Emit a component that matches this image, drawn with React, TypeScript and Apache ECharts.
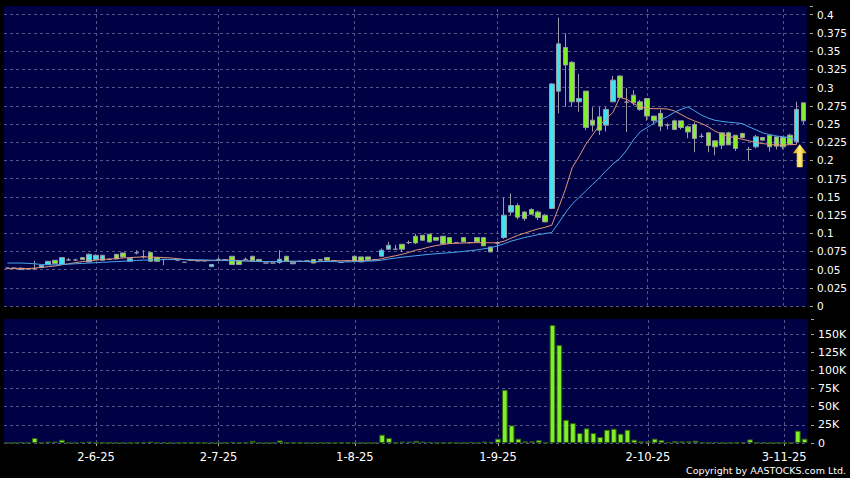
import React, { useEffect, useRef } from "react";
import * as echarts from "echarts";

// Trading days (d-m-yy)
const DATES: string[] = [
  "14-5-25","15-5-25","16-5-25","19-5-25","20-5-25","21-5-25","22-5-25","23-5-25","26-5-25","27-5-25","28-5-25","29-5-25","30-5-25",
  "2-6-25","3-6-25","4-6-25","5-6-25","6-6-25","9-6-25","11-6-25","12-6-25","13-6-25","16-6-25","17-6-25","19-6-25","20-6-25","23-6-25","24-6-25","26-6-25","27-6-25","30-6-25",
  "2-7-25","3-7-25","4-7-25","7-7-25","8-7-25","10-7-25","11-7-25","14-7-25","15-7-25","16-7-25","17-7-25","18-7-25","21-7-25","22-7-25","24-7-25","25-7-25","28-7-25","29-7-25","30-7-25","31-7-25",
  "1-8-25","4-8-25","5-8-25","6-8-25","7-8-25","8-8-25","11-8-25","12-8-25","13-8-25","14-8-25","15-8-25","18-8-25","19-8-25","20-8-25","21-8-25","22-8-25","25-8-25","26-8-25","27-8-25","28-8-25","29-8-25",
  "1-9-25","2-9-25","3-9-25","4-9-25","5-9-25","8-9-25","9-9-25","10-9-25","11-9-25","12-9-25","15-9-25","16-9-25","17-9-25","18-9-25","19-9-25","22-9-25","23-9-25","24-9-25","25-9-25","26-9-25","29-9-25","30-9-25",
  "2-10-25","3-10-25","6-10-25","8-10-25","9-10-25","10-10-25","13-10-25","14-10-25","15-10-25","16-10-25","17-10-25","20-10-25","21-10-25","22-10-25","23-10-25","24-10-25","27-10-25","28-10-25","30-10-25","31-10-25",
  "3-11-25","4-11-25","5-11-25","6-11-25",
];

const TICK_LABELS: string[] = ["2-6-25", "2-7-25", "1-8-25", "1-9-25", "2-10-25", "3-11-25"];

// [open, close, low, high]
const CANDLES: [number, number, number, number][] = [
  [0.052, 0.052, 0.051, 0.053], [0.052, 0.052, 0.051, 0.053], [0.05, 0.052, 0.05, 0.053], [0.051, 0.051, 0.05, 0.052],
  [0.051, 0.051, 0.05, 0.062], [0.053, 0.056, 0.053, 0.056], [0.057, 0.0614, 0.057, 0.0614], [0.0628, 0.0585, 0.0585, 0.0628],
  [0.057, 0.0665, 0.057, 0.067], [0.0632, 0.0632, 0.062, 0.066], [0.0632, 0.0632, 0.0625, 0.065], [0.0665, 0.0638, 0.0638, 0.0665],
  [0.0605, 0.071, 0.0605, 0.072], [0.0638, 0.0697, 0.0638, 0.071], [0.0628, 0.0697, 0.0628, 0.0697], [0.064, 0.064, 0.063, 0.065],
  [0.071, 0.0646, 0.0646, 0.071], [0.0729, 0.0674, 0.066, 0.0729], [0.0614, 0.0651, 0.0614, 0.0651], [0.073, 0.073, 0.071, 0.0766],
  [0.068, 0.068, 0.065, 0.0766], [0.0734, 0.0614, 0.0614, 0.0734], [0.0665, 0.0614, 0.0614, 0.0665], [0.064, 0.064, 0.056, 0.064],
  [0.064, 0.064, 0.063, 0.064], [0.063, 0.063, 0.062, 0.063], [0.06, 0.06, 0.06, 0.06], [0.063, 0.063, 0.063, 0.063],
  [0.062, 0.062, 0.062, 0.062], [0.062, 0.062, 0.062, 0.062], [0.054, 0.057, 0.054, 0.057], [0.064, 0.064, 0.063, 0.0665],
  [0.0635, 0.0635, 0.063, 0.064], [0.0683, 0.057, 0.057, 0.0683], [0.062, 0.057, 0.057, 0.062], [0.064, 0.064, 0.0635, 0.0665],
  [0.0683, 0.062, 0.062, 0.0683], [0.064, 0.0614, 0.0614, 0.064], [0.059, 0.059, 0.059, 0.059], [0.059, 0.059, 0.059, 0.059],
  [0.0597, 0.0642, 0.058, 0.0766], [0.0683, 0.0614, 0.0614, 0.0683], [0.058, 0.06, 0.058, 0.06], [0.0614, 0.0614, 0.0614, 0.0614],
  [0.062, 0.062, 0.062, 0.062], [0.0638, 0.059, 0.059, 0.0638], [0.064, 0.0628, 0.0628, 0.064], [0.0665, 0.0628, 0.0628, 0.0665],
  [0.0625, 0.0625, 0.0625, 0.0625], [0.0597, 0.0597, 0.0597, 0.0597], [0.062, 0.062, 0.062, 0.062], [0.0683, 0.0614, 0.0614, 0.0683],
  [0.0674, 0.0605, 0.0605, 0.0674], [0.0674, 0.0638, 0.0638, 0.0674], [0.0638, 0.0638, 0.0638, 0.0638], [0.0683, 0.0766, 0.0683, 0.079],
  [0.078, 0.0834, 0.077, 0.088], [0.078, 0.078, 0.077, 0.084], [0.0848, 0.078, 0.074, 0.0848], [0.0871, 0.0871, 0.085, 0.09],
  [0.0958, 0.0866, 0.085, 0.099], [0.0972, 0.0903, 0.0895, 0.0972], [0.0986, 0.088, 0.087, 0.0986], [0.094, 0.0903, 0.0895, 0.094],
  [0.0958, 0.0858, 0.085, 0.0958], [0.094, 0.0858, 0.085, 0.094], [0.0871, 0.0871, 0.086, 0.0875], [0.094, 0.088, 0.088, 0.094],
  [0.0871, 0.0871, 0.086, 0.088], [0.094, 0.088, 0.088, 0.094], [0.094, 0.0826, 0.0826, 0.094], [0.0811, 0.0743, 0.074, 0.0811],
  [0.0862, 0.0862, 0.075, 0.089], [0.094, 0.1247, 0.092, 0.149], [0.129, 0.138, 0.1247, 0.1545], [0.138, 0.122, 0.119, 0.141],
  [0.129, 0.12, 0.117, 0.13], [0.1325, 0.126, 0.126, 0.134], [0.129, 0.1215, 0.118, 0.131], [0.1247, 0.1155, 0.115, 0.126],
  [0.134, 0.305, 0.133, 0.306], [0.295, 0.36, 0.2645, 0.396], [0.355, 0.331, 0.2735, 0.3745], [0.3346, 0.2804, 0.2736, 0.3364],
  [0.2804, 0.285, 0.2668, 0.3186], [0.2951, 0.2452, 0.2415, 0.2951], [0.2552, 0.2484, 0.2395, 0.273], [0.2598, 0.2415, 0.235, 0.2735],
  [0.2484, 0.27, 0.2395, 0.2735], [0.2804, 0.3102, 0.28, 0.316], [0.3158, 0.2865, 0.2865, 0.317], [0.28, 0.28, 0.239, 0.2993],
  [0.2896, 0.279, 0.2754, 0.2965], [0.2804, 0.27, 0.268, 0.283], [0.285, 0.2608, 0.2545, 0.285], [0.2608, 0.2544, 0.25, 0.2608],
  [0.2645, 0.247, 0.24, 0.27], [0.2484, 0.2484, 0.2425, 0.251], [0.2543, 0.2425, 0.2415, 0.256], [0.2543, 0.2452, 0.2425, 0.2543],
  [0.246, 0.239, 0.2305, 0.248], [0.2493, 0.23, 0.2112, 0.2525], [0.233, 0.233, 0.2305, 0.237], [0.2378, 0.2205, 0.2112, 0.2385],
  [0.2268, 0.2186, 0.207, 0.2268], [0.2378, 0.2209, 0.2155, 0.2378], [0.2378, 0.2213, 0.2213, 0.2392], [0.2346, 0.2163, 0.213, 0.2346],
  [0.2369, 0.2314, 0.23, 0.238], [0.215, 0.215, 0.2, 0.2186], [0.2186, 0.2323, 0.2165, 0.235], [0.2314, 0.2277, 0.2277, 0.2314],
  [0.2346, 0.2186, 0.212, 0.2346], [0.2323, 0.2195, 0.215, 0.2323], [0.2314, 0.2186, 0.215, 0.2314], [0.2346, 0.2223, 0.2223, 0.2365],
  [0.2254, 0.27, 0.222, 0.2804], [0.279, 0.2543, 0.25, 0.279],
];

const VOLUME: number[] = [
  300, 300, 1000, 300, 7000, 300, 2000, 2000, 4500, 300,
  300, 1400, 2000, 300, 300, 300, 300, 300, 300, 300,
  1000, 2000, 500, 500, 300, 300, 300, 300, 300, 300,
  300, 300, 300, 1500, 300, 300, 3000, 300, 300, 300,
  3500, 300, 300, 300, 300, 300, 500, 300, 300, 300,
  300, 300, 300, 300, 300, 11500, 7000, 300, 2000, 2000,
  3000, 2000, 1500, 300, 300, 500, 300, 300, 1500, 300,
  2000, 1500, 6000, 73400, 24300, 6000, 2300, 2300, 4000, 500,
  162800, 135300, 32000, 27500, 13800, 20200, 13800, 8300, 18300, 19700,
  12800, 18300, 4600, 2300, 2300, 6000, 4000, 1400, 2800, 2300,
  2300, 3200, 500, 300, 1400, 300, 300, 300, 1400, 5000,
  300, 300, 300, 300, 300, 300, 17000, 6000,
];

// moving averages as drawn (orange = short, blue = long)
const MA_SHORT: (number | null)[] = [
  0.0514, 0.0514, 0.0514, 0.0515, 0.052, 0.053, 0.054, 0.055, 0.0565, 0.058,
  0.0595, 0.061, 0.062, 0.063, 0.064, 0.0645, 0.065, 0.066, 0.0665, 0.067,
  0.0674, 0.0672, 0.067, 0.0665, 0.066, 0.065, 0.064, 0.063, 0.0625, 0.0623,
  0.0623, 0.0625, 0.063, 0.063, 0.0625, 0.062, 0.0615, 0.061, 0.061, 0.061,
  0.0612, 0.0614, 0.0614, 0.0612, 0.061, 0.0605, 0.061, 0.0615, 0.062, 0.0622,
  0.0622, 0.0622, 0.0622, 0.0625, 0.063, 0.065, 0.067, 0.069, 0.071, 0.0735,
  0.0766, 0.0785, 0.0811, 0.083, 0.0845, 0.0858, 0.0862, 0.0865, 0.0868, 0.087,
  0.087, 0.0868, 0.0868, 0.089, 0.093, 0.097, 0.1, 0.103, 0.106, 0.108,
  0.111, 0.135, 0.16, 0.19, 0.205, 0.222, 0.235, 0.248, 0.257, 0.266,
  0.2865, 0.284, 0.278, 0.2735, 0.2713, 0.271, 0.271, 0.2705, 0.268, 0.263,
  0.258, 0.254, 0.2507, 0.246, 0.24, 0.236, 0.233, 0.231, 0.229, 0.2268,
  0.2245, 0.223, 0.222, 0.221, 0.221, 0.2215, 0.222, null,
];

const MA_LONG: (number | null)[] = [
  0.059, 0.059, 0.059, 0.0585, 0.058, 0.057, 0.0565, 0.0565, 0.057, 0.0575,
  0.058, 0.0585, 0.059, 0.0595, 0.06, 0.0605, 0.061, 0.0615, 0.062, 0.0625,
  0.063, 0.0632, 0.0635, 0.0637, 0.0638, 0.0638, 0.0637, 0.0636, 0.0635, 0.0633,
  0.063, 0.0628, 0.0625, 0.0623, 0.062, 0.0618, 0.0615, 0.0612, 0.061, 0.061,
  0.0612, 0.0614, 0.0614, 0.0614, 0.0612, 0.061, 0.061, 0.061, 0.061, 0.0605,
  0.0605, 0.061, 0.0613, 0.0617, 0.062, 0.063, 0.0645, 0.0658, 0.067, 0.068,
  0.069, 0.07, 0.071, 0.0718, 0.0725, 0.0732, 0.074, 0.075, 0.076, 0.077,
  0.0785, 0.08, 0.0825, 0.0855, 0.089, 0.0915, 0.094, 0.096, 0.098, 0.0995,
  0.101, 0.114, 0.128, 0.14, 0.149, 0.158, 0.167, 0.176, 0.186, 0.195,
  0.2026, 0.214, 0.228, 0.2392, 0.245, 0.251, 0.256, 0.26, 0.266, 0.27,
  0.2735, 0.268, 0.262, 0.258, 0.255, 0.2535, 0.2525, 0.2515, 0.2505, 0.246,
  0.242, 0.2378, 0.2355, 0.2335, 0.2325, 0.231, 0.2277, null,
];

const PRICE_MAX = 0.412;
const PRICE_STEP = 0.025;
const VOLUME_MAX = 171000;
const VOLUME_STEP = 25000;

// buy-signal arrow under the latest up candle
const SIGNAL = { date: "5-11-25", price: 0.2065 };

const NAVY = "#000045";
const GRID_LINE = "#55558a";
const UP = "#3fe4f2";
const DOWN = "#82ef2a";
const WICK = "#9a9aa8";
const FONT = "DejaVu Sans";

export default function App() {
  const ref = useRef<HTMLDivElement>(null);

  useEffect(() => {
    if (!ref.current) return;
    const chart = echarts.init(ref.current, null, { renderer: "svg" });
    const isTick = (i: number) => TICK_LABELS.includes(DATES[i]);
    const vLines = {
      silent: true,
      z: 1,
      symbol: ["none", "none"],
      label: { show: false },
      lineStyle: { color: GRID_LINE, type: [3, 3], width: 1 },
      data: TICK_LABELS.map((d) => ({ xAxis: d })),
    };

    chart.setOption({
      animation: false,
      backgroundColor: "#000000",
      textStyle: { fontFamily: FONT },
      grid: [
        { left: 4, right: 42, top: 6, height: 300, show: true, backgroundColor: NAVY, borderWidth: 0 },
        { left: 4, right: 42, top: 319, height: 124, show: true, backgroundColor: NAVY, borderWidth: 0 },
      ],
      xAxis: [
        { type: "category", data: DATES, gridIndex: 0, boundaryGap: true, show: false },
        {
          type: "category",
          data: DATES,
          gridIndex: 1,
          boundaryGap: true,
          offset: 3,
          axisLine: { show: false },
          axisTick: { show: true, alignWithLabel: true, length: 3, interval: isTick, lineStyle: { color: "#aaaaaa" } },
          axisLabel: { interval: isTick, color: "#ffffff", fontSize: 11.5, margin: 5, fontFamily: FONT },
          splitLine: { show: false },
        },
      ],
      yAxis: [
        {
          type: "value",
          gridIndex: 0,
          position: "right",
          min: 0,
          max: PRICE_MAX,
          interval: PRICE_STEP,
          offset: 3,
          axisLine: { show: false },
          axisTick: { show: true, length: 3, lineStyle: { color: "#aaaaaa" } },
          axisLabel: {
            color: "#ffffff",
            fontSize: 10.5,
            margin: 7,
            fontFamily: FONT,
            formatter: (v: number) => {
              const k = v / PRICE_STEP;
              if (Math.abs(k - Math.round(k)) > 1e-6) return "";
              return String(Math.round(v * 1000) / 1000);
            },
          },
          splitLine: { show: true, showMaxLine: false, lineStyle: { color: GRID_LINE, type: [3, 3], width: 1 } },
        },
        {
          type: "value",
          gridIndex: 1,
          position: "right",
          min: 0,
          max: VOLUME_MAX,
          interval: VOLUME_STEP,
          offset: 3,
          axisLine: { show: false },
          axisTick: { show: true, length: 3, lineStyle: { color: "#aaaaaa" } },
          axisLabel: {
            color: "#ffffff",
            fontSize: 11,
            margin: 7,
            fontFamily: FONT,
            formatter: (v: number) => {
              if (v === 0) return "0";
              if (v % VOLUME_STEP !== 0) return "";
              return v / 1000 + "K";
            },
          },
          splitLine: { show: true, showMaxLine: false, lineStyle: { color: GRID_LINE, type: [3, 3], width: 1 } },
        },
      ],
      series: [
        {
          type: "candlestick",
          xAxisIndex: 0,
          yAxisIndex: 0,
          data: CANDLES,
          barWidth: 5,
          itemStyle: {
            color: UP,
            color0: DOWN,
            borderColor: WICK,
            borderColor0: WICK,
            borderColorDoji: WICK,
            borderWidth: 1,
          },
          markLine: vLines,
          markPoint: {
            silent: true,
            symbol: "path://M7,0 L14,9 L10,9 L10,23 L4,23 L4,9 L0,9 Z",
            symbolSize: [14, 23],
            symbolOffset: [3, 0],
            label: { show: false },
            itemStyle: {
              color: new echarts.graphic.LinearGradient(0, 0, 1, 0, [
                { offset: 0, color: "#d98c00" },
                { offset: 0.5, color: "#fff27a" },
                { offset: 1, color: "#d98c00" },
              ]),
            },
            data: [{ coord: [SIGNAL.date, SIGNAL.price] }],
          },
        },
        {
          type: "line",
          xAxisIndex: 0,
          yAxisIndex: 0,
          data: MA_SHORT,
          showSymbol: false,
          symbol: "none",
          lineStyle: { color: "#e39573", width: 1 },
          z: 3,
        },
        {
          type: "line",
          xAxisIndex: 0,
          yAxisIndex: 0,
          data: MA_LONG,
          showSymbol: false,
          symbol: "none",
          lineStyle: { color: "#4aa6ea", width: 1 },
          z: 3,
        },
        {
          type: "bar",
          xAxisIndex: 1,
          yAxisIndex: 1,
          data: VOLUME,
          barWidth: "84%",
          itemStyle: { color: "#80ef28", borderColor: "#2c5e0e", borderWidth: 1 },
          markLine: vLines,
        },
      ],
      graphic: [
        {
          type: "text",
          right: 4,
          top: 465,
          style: { text: "Copyright by AASTOCKS.com Ltd.", fill: "#ffffff", fontSize: 9.5, fontFamily: FONT },
        },
      ],
    });

    return () => chart.dispose();
  }, []);

  return (
    <div
      ref={ref}
      style={{ position: "fixed", left: 0, top: 0, width: 850, height: 478, background: "#000000" }}
    />
  );
}
